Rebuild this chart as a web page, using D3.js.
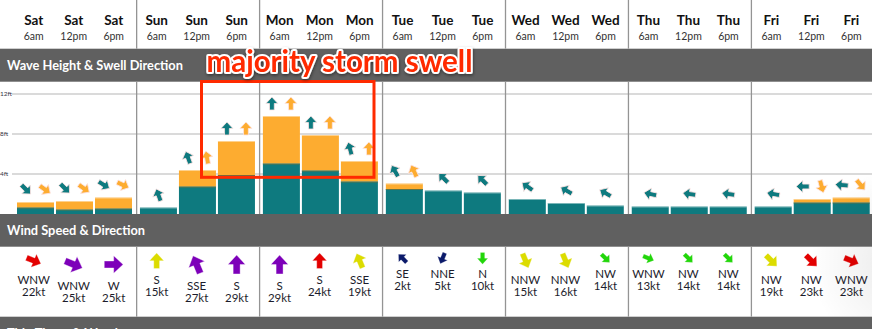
<!DOCTYPE html>
<html>
<head>
<meta charset="utf-8">
<script src="https://cdn.jsdelivr.net/npm/d3@7"></script>
<style>
  html, body { margin: 0; padding: 0; background: #fff; }
  svg { display: block; }
  text { font-family: Lato, "Noto Sans", sans-serif; }
</style>
</head>
<body>
<svg id="chart" width="872" height="329"></svg>
<script>
// ---- data ----
const days = ["Sat", "Sun", "Mon", "Tue", "Wed", "Thu", "Fri"];
const times = ["6am", "12pm", "6pm"];

// wave height split into primary (ground) swell and secondary (storm) swell, in feet
const primaryFt   = [0.65, 0.45, 0.55, 0.65, 2.75, 3.9, 5.05, 4.35, 3.25, 2.5, 2.35, 2.15, 1.5, 1.1, 0.85, 0.75, 0.75, 0.75, 0.75, 1.15, 1.15];
const secondaryFt = [0.55, 0.85, 1.1, 0, 1.65, 3.4, 4.75, 3.55, 2.05, 0.55, 0, 0, 0, 0, 0, 0, 0, 0, 0, 0.35, 0.5];

// direction each swell travels (degrees clockwise from north)
const primaryDir   = [135, 135, 122, 340, 340, 0, 0, 0, 345, 330, 315, 315, 305, 300, 300, 282, 278, 278, 280, 270, 275];
const secondaryDir = [125, 125, 115, null, 350, 0, 0, 0, 0, 335, null, null, null, null, null, null, null, null, null, 165, 140];

// wind: compass direction the wind blows from, and speed in knots
const windFrom = ["WNW", "WNW", "W", "S", "SSE", "S", "S", "S", "SSE", "SE", "NNE", "N", "NNW", "NNW", "NW", "WNW", "NW", "NW", "NW", "NW", "WNW"];
const windKt   = [22, 25, 25, 15, 27, 29, 29, 24, 19, 2, 5, 10, 15, 16, 14, 13, 14, 14, 19, 23, 23];

const heightTicks = [4, 8, 12];
const sectionTitles = ["Wave Height & Swell Direction", "Wind Speed & Direction", "Tide Times & Weather"];
const noteText = "majority storm swell";

// ---- layout ----
const W = 872, H = 329;
const svg = d3.select("#chart");
const colors = {
  band: "#606060", grid: "#dadada", sep: "#949494",
  primary: "#0e7a7f", secondary: "#fdac30", note: "#ff2a00"
};
const bands = [
  { y0: 48.7, y1: 81.7 },
  { y0: 214, y1: 246.7 },
  { y0: 316.7, y1: 345 }
];
const wave = { top: 81.7, base: 214 };
const wind = { top: 246.7, bottom: 316.7 };

const dayX = d3.scaleLinear().domain([0, days.length]).range([13.7, 13.7 + 122.95 * days.length]);
const barInDay = d3.scaleBand().domain(d3.range(times.length)).range([3.3, 118.3]).paddingInner(2 / 39);
const textInDay = d3.scaleBand().domain(d3.range(times.length)).range([0, 120]);
const yFt = d3.scaleLinear().domain([0, 12]).range([wave.base, wave.base - 120]);

const slots = d3.range(days.length * times.length).map(i => ({
  i, d: Math.floor(i / times.length), t: i % times.length
}));
const barX = s => dayX(s.d) + barInDay(s.t);
const barMid = s => barX(s) + barInDay.bandwidth() / 2;
const textMid = s => dayX(s.d) + textInDay(s.t) + textInDay.bandwidth() / 2;

// ---- background ----
svg.append("rect").attr("width", W).attr("height", H).attr("fill", "#fff");

const defs = svg.append("defs");
const rg = defs.append("radialGradient").attr("id", "edgeShade")
  .attr("cx", 905).attr("cy", 262).attr("r", 95).attr("gradientUnits", "userSpaceOnUse");
rg.append("stop").attr("offset", 0).attr("stop-color", "#000").attr("stop-opacity", 0.09);
rg.append("stop").attr("offset", 1).attr("stop-color", "#000").attr("stop-opacity", 0);
const sh = defs.append("filter").attr("id", "noteShadow").attr("x", -0.1).attr("y", -0.3).attr("width", 1.2).attr("height", 1.6);
sh.append("feDropShadow").attr("dx", 0.5).attr("dy", 1.5).attr("stdDeviation", 1.4)
  .attr("flood-color", "#000").attr("flood-opacity", 0.45);

// ---- column header ----
const head = svg.append("g");
head.selectAll("text.day").data(slots).join("text")
  .attr("class", "day")
  .attr("x", textMid).attr("y", 25)
  .attr("text-anchor", "middle")
  .attr("font-size", 13.5).attr("font-weight", 700).attr("fill", "#111")
  .text(s => days[s.d]);
head.selectAll("text.time").data(slots).join("text")
  .attr("class", "time")
  .attr("x", textMid).attr("y", 39.5)
  .attr("text-anchor", "middle")
  .attr("font-size", 10.5).attr("fill", "#333")
  .text(s => times[s.t]);

// ---- section bands ----
svg.selectAll("rect.band").data(bands).join("rect")
  .attr("class", "band")
  .attr("x", 0).attr("y", d => d.y0).attr("width", W).attr("height", d => d.y1 - d.y0)
  .attr("fill", colors.band);
svg.selectAll("text.bandTitle").data(bands).join("text")
  .attr("class", "bandTitle")
  .attr("x", 7).attr("y", d => d.y0 + 21.3)
  .attr("font-size", 12.8).attr("font-weight", 700).attr("fill", "#fff")
  .text((d, i) => sectionTitles[i]);

// ---- height grid ----
const grid = svg.append("g");
grid.selectAll("line").data(heightTicks).join("line")
  .attr("x1", 12).attr("x2", W)
  .attr("y1", d => yFt(d)).attr("y2", d => yFt(d))
  .attr("stroke", colors.grid).attr("stroke-width", 2);
grid.selectAll("text").data(heightTicks).join("text")
  .attr("x", 0).attr("y", d => yFt(d) + 2.3)
  .attr("font-size", 6.5).attr("fill", "#334")
  .text(d => d + "ft");

// ---- day separators ----
const sepRuns = [[0, bands[0].y0], [wave.top, wave.base], [wind.top, wind.bottom]];
const sepG = svg.append("g");
d3.range(1, days.length).forEach(d => {
  sepRuns.forEach(([a, b]) => {
    sepG.append("line")
      .attr("x1", dayX(d)).attr("x2", dayX(d)).attr("y1", a).attr("y2", b)
      .attr("stroke", colors.sep).attr("stroke-width", 1.3);
  });
});

// ---- wave bars ----
const bars = svg.append("g");
const bw = barInDay.bandwidth();
bars.selectAll("rect.pri").data(slots).join("rect")
  .attr("class", "pri")
  .attr("x", barX).attr("width", bw)
  .attr("y", s => yFt(primaryFt[s.i]))
  .attr("height", s => yFt(0) - yFt(primaryFt[s.i]))
  .attr("fill", colors.primary);
bars.selectAll("rect.sec").data(slots.filter(s => secondaryFt[s.i] > 0)).join("rect")
  .attr("class", "sec")
  .attr("x", barX).attr("width", bw)
  .attr("y", s => yFt(primaryFt[s.i] + secondaryFt[s.i]))
  .attr("height", s => yFt(primaryFt[s.i]) - yFt(primaryFt[s.i] + secondaryFt[s.i]))
  .attr("fill", colors.secondary);
// dividing line between the two swells
bars.selectAll("line.div").data(slots.filter(s => secondaryFt[s.i] > 0)).join("line")
  .attr("class", "div")
  .attr("x1", barX).attr("x2", s => barX(s) + bw)
  .attr("y1", s => yFt(primaryFt[s.i]) + 0.5).attr("y2", s => yFt(primaryFt[s.i]) + 0.5)
  .attr("stroke", "#5e7448").attr("stroke-width", 1);
// pale top edge
bars.selectAll("line.top").data(slots).join("line")
  .attr("class", "top")
  .attr("x1", barX).attr("x2", s => barX(s) + bw)
  .attr("y1", s => yFt(primaryFt[s.i] + secondaryFt[s.i]) + 0.5)
  .attr("y2", s => yFt(primaryFt[s.i] + secondaryFt[s.i]) + 0.5)
  .attr("stroke", "#fff").attr("stroke-opacity", 0.45).attr("stroke-width", 1);

// block arrow pointing up, centred on the origin
const arrowPath = "M0,-6.5 L6,0 L2.4,0 L2.4,6.5 L-2.4,6.5 L-2.4,0 L-6,0 Z";

// ---- swell direction arrows ----
const swellArrows = [];
slots.forEach(s => {
  const topY = yFt(primaryFt[s.i] + secondaryFt[s.i]) - 12.5;
  const two = secondaryDir[s.i] !== null;
  swellArrows.push({ x: two ? barMid(s) - 9.5 : barMid(s), y: topY, dir: primaryDir[s.i], fill: colors.primary });
  if (two) swellArrows.push({ x: barMid(s) + 9.5, y: topY, dir: secondaryDir[s.i], fill: colors.secondary });
});
svg.append("g").selectAll("path").data(swellArrows).join("path")
  .attr("d", arrowPath)
  .attr("transform", a => `translate(${a.x},${a.y}) rotate(${a.dir})`)
  .attr("fill", a => a.fill)
  .attr("stroke", "#fde3e3").attr("stroke-width", 0.8).attr("stroke-linejoin", "round");

// ---- wind ----
const compass = ["N", "NNE", "NE", "ENE", "E", "ESE", "SE", "SSE", "S", "SSW", "SW", "WSW", "W", "WNW", "NW", "NNW"];
const blowsToward = label => (compass.indexOf(label) * 22.5 + 180) % 360;
function windStyle(kt) {
  if (kt >= 25) return { fill: "#7d00b9", k: 1.45, ay: 264.5, ty: 290 };
  if (kt >= 20) return { fill: "#e30000", k: 1.2, ay: 260.7, ty: 284 };
  if (kt >= 15) return { fill: "#dcdc00", k: 1.2, ay: 260.7, ty: 284 };
  if (kt >= 10) return { fill: "#22d60a", k: 0.9, ay: 258.3, ty: 278 };
  return { fill: "#0b1a6a", k: 0.9, ay: 258.3, ty: 278 };
}
const windG = svg.append("g");
const windCells = windG.selectAll("g").data(slots).join("g");
windCells.append("path")
  .attr("d", arrowPath)
  .attr("transform", s => {
    const st = windStyle(windKt[s.i]);
    return `translate(${textMid(s)},${st.ay}) rotate(${blowsToward(windFrom[s.i])}) scale(${st.k})`;
  })
  .attr("fill", s => windStyle(windKt[s.i]).fill)
  .attr("stroke", "#fff").attr("stroke-opacity", 0.5).attr("stroke-width", 0.5);
windCells.append("text")
  .attr("x", textMid).attr("y", s => windStyle(windKt[s.i]).ty)
  .attr("text-anchor", "middle").attr("font-size", 11.5).attr("fill", "#1c1c2c")
  .text(s => windFrom[s.i]);
windCells.append("text")
  .attr("x", textMid).attr("y", s => windStyle(windKt[s.i]).ty + 11.7)
  .attr("text-anchor", "middle").attr("font-size", 11.5).attr("fill", "#1c1c2c")
  .text(s => windKt[s.i] + "kt");

// soft shading toward the right edge of the white panels
[[wave.top, wave.base], [wind.top, wind.bottom]].forEach(([a, b]) => {
  svg.append("rect").attr("x", 760).attr("y", a).attr("width", W - 760).attr("height", b - a)
    .attr("fill", "url(#edgeShade)");
});

// ---- callout ----
svg.append("rect")
  .attr("x", 201.5).attr("y", 81.5)
  .attr("width", 374 - 201.5).attr("height", 177.3 - 81.5)
  .attr("fill", "none").attr("stroke", colors.note).attr("stroke-width", 3);
svg.append("text")
  .attr("x", 206.5).attr("y", 71.5)
  .attr("font-family", "'Liberation Sans', Arial, sans-serif")
  .attr("font-size", 29.5).attr("font-weight", 700)
  .attr("fill", colors.note)
  .attr("stroke", "#fff").attr("stroke-width", 4).attr("stroke-linejoin", "round")
  .attr("paint-order", "stroke")
  .attr("filter", "url(#noteShadow)")
  .text(noteText);
</script>
</body>
</html>
